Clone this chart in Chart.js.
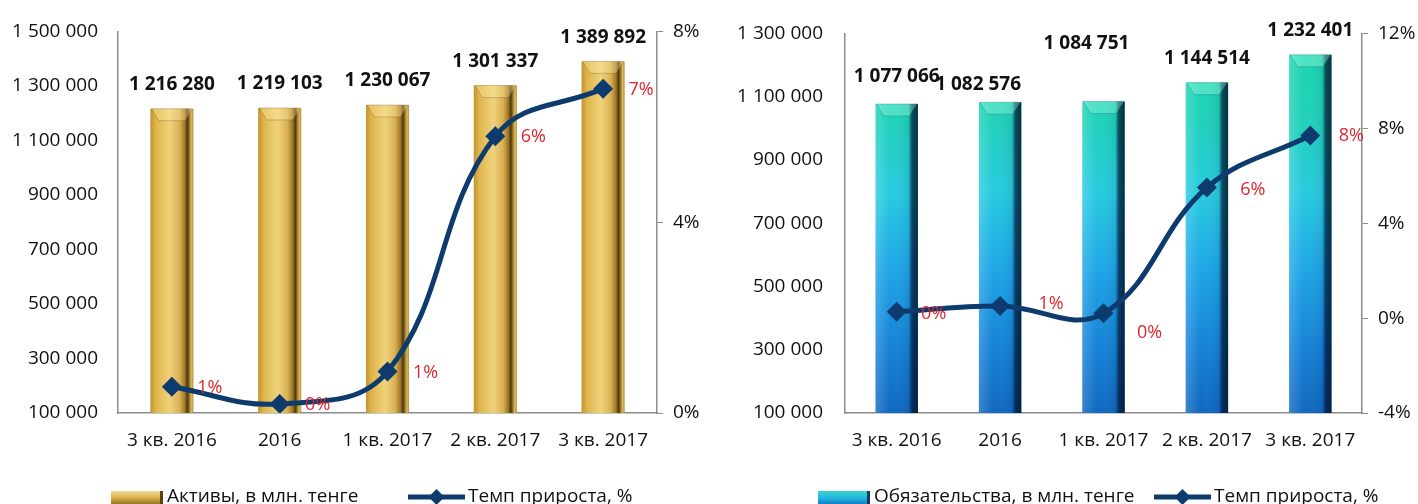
<!DOCTYPE html>
<html>
<head>
<meta charset="utf-8">
<script src="https://cdn.jsdelivr.net/npm/chart.js@4.4.0/dist/chart.umd.min.js"></script>
<style>
html, body { margin: 0; padding: 0; background: #fff; overflow: hidden; }
#wrap { position: relative; width: 1418px; height: 504px; overflow: hidden; }
.box { position: absolute; top: 0; height: 504px; }
#left { left: 0; width: 710px; }
#right { left: 712px; width: 706px; }
</style>
</head>
<body>
<div id="wrap">
  <div class="box" id="left"><canvas id="assetsChart"></canvas></div>
  <div class="box" id="right"><canvas id="liabChart"></canvas></div>
</div>
<script>
// --- data ---
const periods = ['3 кв. 2016', '2016', '1 кв. 2017', '2 кв. 2017', '3 кв. 2017'];

const assets = [1216280, 1219103, 1230067, 1301337, 1389892];
const assetsGrowth = [0.55, 0.19, 0.87, 5.8, 6.8];
const assetsGrowthLabels = ['1%', '0%', '1%', '6%', '7%'];

const liabilities = [1077066, 1082576, 1084751, 1144514, 1232401];
const liabGrowth = [0.27, 0.51, 0.2, 5.5, 7.7];
const liabGrowthLabels = ['0%', '1%', '0%', '6%', '8%'];

const FONT = "'Open Sans', 'Noto Sans', sans-serif";
const NAVY = '#0e3b6d';
const AXIS = '#8c8c8c';

Chart.defaults.font.family = FONT;
Chart.defaults.font.size = 19;
Chart.defaults.color = '#111';

const fmt = v => String(v).replace(/\B(?=(\d{3})+(?!\d))/g, ' ');

// bar centre and width from the scale, used by the scriptable fills
function barGeom(chart, i) {
    const sx = chart.scales.x;
    const ds = chart.data.datasets[0];
    const w = sx.width / chart.data.labels.length * ds.categoryPercentage * ds.barPercentage;
    return { x: sx.getPixelForValue(i), w };
}

function goldFill(ctx) {
    const chart = ctx.chart;
    if (!chart.chartArea) return '#d6ad45';
    const { x, w } = barGeom(chart, ctx.dataIndex);
    const g = chart.ctx.createLinearGradient(x - w / 2, 0, x + w / 2, 0);
    g.addColorStop(0, '#c0922c');
    g.addColorStop(0.12, '#deb44a');
    g.addColorStop(0.45, '#f0d27c');
    g.addColorStop(0.68, '#d9b052');
    g.addColorStop(0.8, '#a07826');
    g.addColorStop(0.86, '#4b3710');
    g.addColorStop(0.9, '#8e6c22');
    g.addColorStop(0.95, '#d8b862');
    g.addColorStop(1, '#b8923a');
    return g;
}

function tealFill(ctx) {
    const chart = ctx.chart;
    const a = chart.chartArea;
    if (!a) return '#22b8d8';
    const g = chart.ctx.createLinearGradient(0, a.top, 0, a.bottom);
    g.addColorStop(0, '#1ad6ad');
    g.addColorStop(0.22, '#1fd1b8');
    g.addColorStop(0.42, '#27cbe0');
    g.addColorStop(0.62, '#1ea6e6');
    g.addColorStop(0.82, '#1683d8');
    g.addColorStop(1, '#0f68c0');
    return g;
}

// bevel and edge shading drawn over each bar
const barDeco = {
    id: 'barDeco',
    afterDatasetDraw(chart, args, opts) {
        if (args.index !== 0) return;
        const ctx = chart.ctx;
        const bottom = chart.chartArea.bottom;
        args.meta.data.forEach(bar => {
            const L = bar.x - bar.width / 2, R = bar.x + bar.width / 2, T = bar.y, w = bar.width;
            const B = Math.min(bar.base, bottom);
            ctx.save();
            if (opts.kind === 'teal') {
                const g = ctx.createLinearGradient(L, 0, R, 0);
                g.addColorStop(0, 'rgba(255,255,255,0.18)');
                g.addColorStop(0.35, 'rgba(255,255,255,0)');
                g.addColorStop(0.78, 'rgba(0,20,60,0.08)');
                g.addColorStop(0.86, 'rgba(0,20,50,0.7)');
                g.addColorStop(1, 'rgba(0,20,40,0.85)');
                ctx.fillStyle = g;
                ctx.fillRect(L, T, w, B - T);
                ctx.fillStyle = 'rgba(170,255,230,0.35)';
            } else {
                ctx.fillStyle = 'rgba(255,236,170,0.35)';
            }
            ctx.beginPath();
            ctx.moveTo(L + 1, T);
            ctx.lineTo(R - 1, T);
            ctx.lineTo(R - w * 0.2, T + 12);
            ctx.lineTo(L + w * 0.2, T + 12);
            ctx.closePath();
            ctx.fill();
            ctx.strokeStyle = opts.kind === 'teal' ? 'rgba(10,90,90,0.25)' : 'rgba(110,80,20,0.3)';
            ctx.lineWidth = 1;
            ctx.stroke();
            ctx.restore();
        });
    }
};

// value labels over bars and percent labels by points
const labelsPlugin = {
    id: 'labelsPlugin',
    afterDatasetsDraw(chart, args, opts) {
        const ctx = chart.ctx;
        ctx.save();
        ctx.textAlign = 'center';
        ctx.textBaseline = 'middle';
        ctx.font = `bold 19px ${FONT}`;
        ctx.fillStyle = '#111';
        const bars = chart.getDatasetMeta(0).data;
        const vals = chart.data.datasets[0].data;
        bars.forEach((bar, i) => {
            const lift = opts.lift ? opts.lift[i] : 24;
            const dx = opts.dx ? opts.dx[i] : 0;
            ctx.fillText(fmt(vals[i]), bar.x + dx, bar.y - lift);
        });
        ctx.font = `18px ${FONT}`;
        ctx.fillStyle = '#dc2630';
        const pts = chart.getDatasetMeta(1).data;
        pts.forEach((pt, i) => {
            const pdx = opts.pdx ? opts.pdx[i] : 38;
            const pdy = opts.pdy ? opts.pdy[i] : 1;
            ctx.fillText(opts.pct[i], pt.x + pdx, pt.y + pdy);
        });
        ctx.restore();
    }
};

// legend strip at the bottom
const bottomLegend = {
    id: 'bottomLegend',
    afterDraw(chart, args, opts) {
        const ctx = chart.ctx;
        const y = 497;
        ctx.save();
        // bar swatch
        const sx = opts.barX;
        const g = ctx.createLinearGradient(0, y - 6, 0, y + 8);
        if (opts.kind === 'teal') {
            g.addColorStop(0, '#3ad6c8');
            g.addColorStop(0.5, '#22b6e0');
            g.addColorStop(1, '#1274c8');
        } else {
            g.addColorStop(0, '#f3dc95');
            g.addColorStop(0.5, '#d8ae48');
            g.addColorStop(1, '#8e6b22');
        }
        ctx.fillStyle = g;
        ctx.fillRect(sx, y - 6, 52, 14);
        ctx.fillStyle = opts.kind === 'teal' ? '#0d3d60' : '#5a4212';
        ctx.fillRect(sx + 49, y - 6, 3, 14);
        ctx.font = `19px ${FONT}`;
        ctx.fillStyle = '#111';
        ctx.textBaseline = 'middle';
        ctx.textAlign = 'left';
        ctx.fillText(opts.barText, sx + 56, y);
        // line swatch
        const lx = opts.lineX;
        ctx.strokeStyle = NAVY;
        ctx.lineWidth = 5;
        ctx.beginPath();
        ctx.moveTo(lx, y);
        ctx.lineTo(lx + 57, y);
        ctx.stroke();
        ctx.fillStyle = NAVY;
        ctx.beginPath();
        ctx.moveTo(lx + 28.5, y - 8);
        ctx.lineTo(lx + 36.5, y);
        ctx.lineTo(lx + 28.5, y + 8);
        ctx.lineTo(lx + 20.5, y);
        ctx.closePath();
        ctx.fill();
        ctx.fillStyle = '#111';
        ctx.fillText(opts.lineText, lx + 60, y);
        ctx.restore();
    }
};

function makeChart(id, cfg) {
    return new Chart(document.getElementById(id), {
        data: {
            labels: periods,
            datasets: [
                {
                    type: 'bar',
                    label: cfg.barText,
                    data: cfg.bars,
                    yAxisID: 'y',
                    backgroundColor: cfg.fill,
                    borderWidth: 0,
                    categoryPercentage: 1,
                    barPercentage: cfg.barPct,
                    order: 1
                },
                {
                    type: 'line',
                    label: 'Темп прироста, %',
                    data: cfg.growth,
                    yAxisID: 'y1',
                    borderColor: NAVY,
                    backgroundColor: NAVY,
                    borderWidth: 5,
                    tension: 0.4,
                    pointStyle: 'rectRot',
                    pointRadius: 10,
                    pointBorderWidth: 0,
                    pointBackgroundColor: NAVY,
                    order: 0
                }
            ]
        },
        options: {
            responsive: true,
            maintainAspectRatio: false,
            animation: false,
            events: [],
            layout: { padding: { top: cfg.top, left: 0, right: 0, bottom: 0 } },
            plugins: {
                legend: { display: false },
                tooltip: { enabled: false },
                barDeco: { kind: cfg.kind },
                labelsPlugin: cfg.labelOpts,
                bottomLegend: { kind: cfg.kind, barX: cfg.legendX[0], lineX: cfg.legendX[1], barText: cfg.barText, lineText: 'Темп прироста, %' }
            },
            scales: {
                x: {
                    grid: { display: false, drawTicks: false },
                    border: { color: AXIS, width: 1.5 },
                    ticks: { padding: 16, color: '#111', maxRotation: 0, autoSkip: false },
                    afterFit: s => { s.height = 504 - cfg.bottom; }
                },
                y: {
                    position: 'left',
                    min: cfg.yMin, max: cfg.yMax,
                    grid: { display: false, drawTicks: false },
                    border: { color: AXIS, width: 1.5 },
                    ticks: { stepSize: 200000, padding: cfg.yPad, color: '#111', callback: v => fmt(v) },
                    afterFit: s => { s.width = cfg.leftW; }
                },
                y1: {
                    position: 'right',
                    min: cfg.pMin, max: cfg.pMax,
                    grid: { drawOnChartArea: false, drawTicks: true, tickLength: 6, color: AXIS },
                    border: { color: AXIS, width: 1.5 },
                    ticks: { stepSize: 4, padding: 10, color: '#111', callback: v => v + '%' },
                    afterFit: s => { s.width = cfg.rightW; }
                }
            }
        },
        plugins: [barDeco, labelsPlugin, bottomLegend]
    });
}

makeChart('assetsChart', {
    kind: 'gold',
    bars: assets,
    growth: assetsGrowth,
    fill: goldFill,
    barPct: 0.4,
    barText: 'Активы, в млн. тенге',
    yMin: 100000, yMax: 1500000, yPad: 20,
    pMin: 0, pMax: 8,
    top: 30, bottom: 413, leftW: 118, rightW: 53,
    legendX: [111, 408],
    labelOpts: { pct: assetsGrowthLabels }
});

makeChart('liabChart', {
    kind: 'teal',
    bars: liabilities,
    growth: liabGrowth,
    fill: tealFill,
    barPct: 0.41,
    barText: 'Обязательства, в млн. тенге',
    yMin: 100000, yMax: 1300000, yPad: 22,
    pMin: -4, pMax: 12,
    top: 24, bottom: 413, leftW: 133, rightW: 56,
    legendX: [106, 442],
    labelOpts: {
        pct: liabGrowthLabels,
        lift: [27, 18, 58, 24, 24],
        dx: [0, -22, -17, 0, 0],
        pdx: [37, 51, 46, 46, 41],
        pdy: [2, -2, 20, 2, 0]
    }
});
</script>
</body>
</html>
